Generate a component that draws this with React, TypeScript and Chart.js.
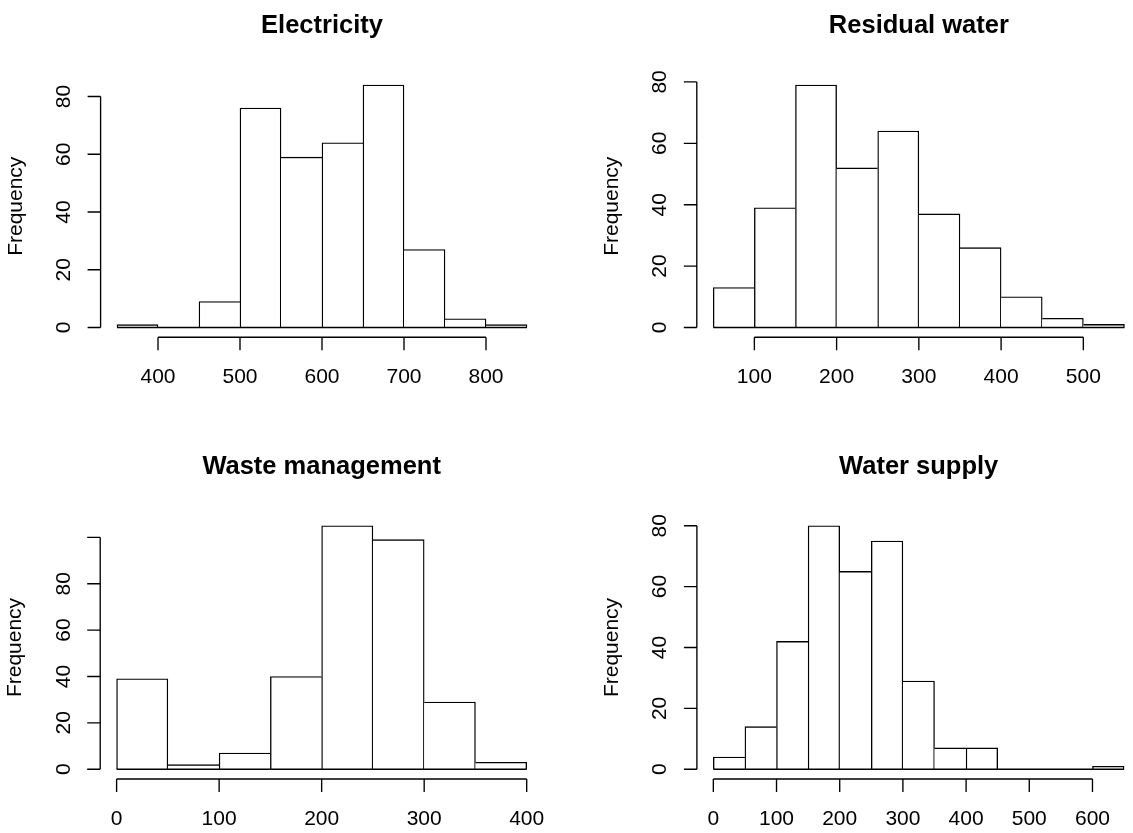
import React, { useEffect, useRef } from "react";
import { Chart, registerables } from "chart.js";

Chart.register(...registerables);

// ---------- data ----------
const electricityBreaks = [350, 400, 450, 500, 550, 600, 650, 700, 750, 800, 850];
const electricityCounts = [1, 0, 9, 76, 59, 64, 84, 27, 3, 1];
const electricityXTicks = [400, 500, 600, 700, 800];
const electricityYTicks = [0, 20, 40, 60, 80];
const electricityYTickLabels = ["0", "20", "40", "60", "80"];

const residualBreaks = [50, 100, 150, 200, 250, 300, 350, 400, 450, 500, 550];
const residualCounts = [13, 39, 79, 52, 64, 37, 26, 10, 3, 1];
const residualXTicks = [100, 200, 300, 400, 500];
const residualYTicks = [0, 20, 40, 60, 80];
const residualYTickLabels = ["0", "20", "40", "60", "80"];

const wasteBreaks = [0, 50, 100, 150, 200, 250, 300, 350, 400];
const wasteCounts = [39, 2, 7, 40, 105, 99, 29, 3];
const wasteXTicks = [0, 100, 200, 300, 400];
const wasteYTicks = [0, 20, 40, 60, 80, 100];
const wasteYTickLabels = ["0", "20", "40", "60", "80", ""];

const waterBreaks = [0, 50, 100, 150, 200, 250, 300, 350, 400, 450, 500, 550, 600, 650];
const waterCounts = [4, 14, 42, 80, 65, 75, 29, 7, 7, 0, 0, 0, 1];
const waterXTicks = [0, 100, 200, 300, 400, 500, 600];
const waterYTicks = [0, 20, 40, 60, 80];
const waterYTickLabels = ["0", "20", "40", "60", "80"];

const titles = ["Electricity", "Residual water", "Waste management", "Water supply"];
const yAxisTitle = "Frequency";

// ---------- layout ----------
const FONT = '"Liberation Sans", Arial, Helvetica, sans-serif';
const TICK_LEN = 13;
const LINE_W = 1.35;

type Panel = {
  title: string;
  breaks: number[];
  counts: number[];
  xTicks: number[];
  yTicks: number[];
  yTickLabels: string[];
};

type Box = {
  left: number;
  top: number;
  w: number;
  h: number;
  pad: { left: number; right: number; top: number; bottom: number };
};

const panels: Panel[] = [
  { title: titles[0], breaks: electricityBreaks, counts: electricityCounts, xTicks: electricityXTicks, yTicks: electricityYTicks, yTickLabels: electricityYTickLabels },
  { title: titles[1], breaks: residualBreaks, counts: residualCounts, xTicks: residualXTicks, yTicks: residualYTicks, yTickLabels: residualYTickLabels },
  { title: titles[2], breaks: wasteBreaks, counts: wasteCounts, xTicks: wasteXTicks, yTicks: wasteYTicks, yTickLabels: wasteYTickLabels },
  { title: titles[3], breaks: waterBreaks, counts: waterCounts, xTicks: waterXTicks, yTicks: waterYTicks, yTickLabels: waterYTickLabels },
];

const boxes: Box[] = [
  { left: 0, top: 0, w: 596, h: 440, pad: { left: 100.6, right: 52.6, top: 75.3, bottom: 102.8 } },
  { left: 596, top: 0, w: 596, h: 440, pad: { left: 100.8, right: 51.1, top: 75.3, bottom: 102.8 } },
  { left: 0, top: 440, w: 596, h: 393, pad: { left: 100.2, right: 52.9, top: 76, bottom: 54 } },
  { left: 596, top: 440, w: 596, h: 393, pad: { left: 100.9, right: 51.5, top: 76, bottom: 54 } },
];

function rAxesPlugin(p: Panel) {
  return {
    id: "rAxes",
    afterDraw(chart: any) {
      const { ctx, chartArea: a } = chart;
      const x = chart.scales.x;
      const y = chart.scales.y;
      ctx.save();
      ctx.strokeStyle = "#000";
      ctx.fillStyle = "#000";
      ctx.lineWidth = LINE_W;
      ctx.lineCap = "butt";

      // x axis
      const xb = a.bottom;
      const xs = p.xTicks.map((v) => x.getPixelForValue(v));
      ctx.beginPath();
      ctx.moveTo(xs[0], xb);
      ctx.lineTo(xs[xs.length - 1], xb);
      xs.forEach((px) => {
        ctx.moveTo(px, xb);
        ctx.lineTo(px, xb + TICK_LEN);
      });
      ctx.stroke();
      ctx.font = `21px ${FONT}`;
      ctx.textAlign = "center";
      ctx.textBaseline = "alphabetic";
      p.xTicks.forEach((v, i) => ctx.fillText(String(v), xs[i], xb + 46));

      // y axis
      const yl = a.left;
      const ys = p.yTicks.map((v) => y.getPixelForValue(v));
      ctx.beginPath();
      ctx.moveTo(yl, ys[0]);
      ctx.lineTo(yl, ys[ys.length - 1]);
      ys.forEach((py) => {
        ctx.moveTo(yl, py);
        ctx.lineTo(yl - TICK_LEN, py);
      });
      ctx.stroke();
      p.yTickLabels.forEach((lab, i) => {
        if (!lab) return;
        ctx.save();
        ctx.translate(yl - 30.5, ys[i]);
        ctx.rotate(-Math.PI / 2);
        ctx.fillText(lab, 0, 0);
        ctx.restore();
      });

      // y axis title
      ctx.save();
      ctx.translate(yl - 79, (a.top + a.bottom) / 2);
      ctx.rotate(-Math.PI / 2);
      ctx.fillText(yAxisTitle, 0, 0);
      ctx.restore();

      // main title
      ctx.font = `bold 25.5px ${FONT}`;
      ctx.fillText(p.title, (a.left + a.right) / 2, a.top - 42);
      ctx.restore();
    },
  };
}

function Histogram({ panel, box }: { panel: Panel; box: Box }) {
  const ref = useRef<HTMLCanvasElement>(null);
  useEffect(() => {
    if (!ref.current) return;
    const { breaks, counts } = panel;
    const lo = breaks[0];
    const hi = breaks[breaks.length - 1];
    const span = hi - lo;
    const maxC = Math.max(...counts);
    const bins = counts.map((c, i) => ({ x: (breaks[i] + breaks[i + 1]) / 2, y: c }));
    const chart = new Chart(ref.current, {
      type: "bar",
      data: {
        datasets: [
          {
            type: "bar",
            data: bins as any,
            backgroundColor: "#ffffff",
            borderColor: "#000000",
            borderSkipped: "start",
            borderWidth: (ctx: any) => {
              const i = ctx.dataIndex;
              const h = counts;
              return {
                top: LINE_W,
                bottom: 0,
                left: i === 0 || h[i] >= h[i - 1] ? LINE_W : 0,
                right: i === h.length - 1 || h[i] > h[i + 1] ? LINE_W : 0,
              };
            },
            barPercentage: 1,
            categoryPercentage: 1,
            order: 2,
          } as any,
          {
            type: "line",
            data: [
              { x: lo, y: 0 },
              { x: hi, y: 0 },
            ] as any,
            borderColor: "#000000",
            borderWidth: LINE_W,
            pointRadius: 0,
            tension: 0,
            order: 1,
          } as any,
        ],
      },
      options: {
        animation: false,
        responsive: false,
        events: [],
        layout: { padding: box.pad },
        plugins: {
          legend: { display: false },
          tooltip: { enabled: false },
          title: { display: false },
        },
        scales: {
          x: {
            type: "linear",
            min: lo - 0.04 * span,
            max: hi + 0.04 * span,
            offset: false,
            display: false,
            afterBuildTicks: (s: any) => {
              s.ticks = breaks.map((v) => ({ value: v }));
            },
          },
          y: {
            type: "linear",
            min: -0.04 * maxC,
            max: 1.04 * maxC,
            display: false,
          },
        },
      } as any,
      plugins: [rAxesPlugin(panel)],
    });
    return () => chart.destroy();
  }, [panel, box]);
  return (
    <div style={{ position: "absolute", left: box.left, top: box.top, width: box.w, height: box.h }}>
      <canvas ref={ref} width={box.w} height={box.h} style={{ display: "block" }} />
    </div>
  );
}

export default function App() {
  return (
    <div
      style={{
        position: "absolute",
        left: 0,
        top: 0,
        width: 1133,
        height: 833,
        overflow: "hidden",
        background: "#ffffff",
      }}
    >
      {panels.map((p, i) => (
        <Histogram key={p.title} panel={p} box={boxes[i]} />
      ))}
    </div>
  );
}
